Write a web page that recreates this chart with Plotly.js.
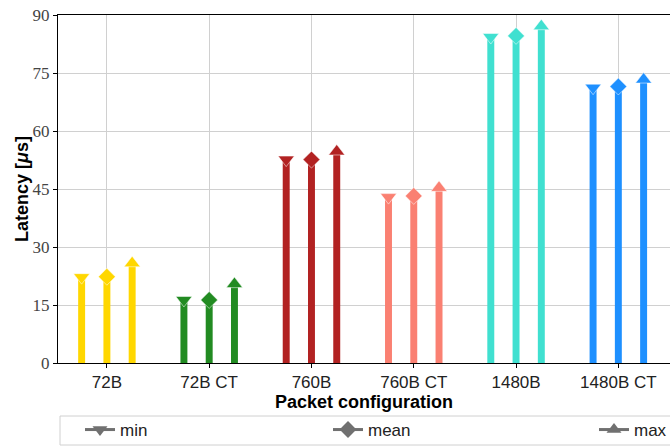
<!DOCTYPE html>
<html>
<head>
<meta charset="utf-8">
<script src="https://cdn.plot.ly/plotly-3.0.1.min.js"></script>
<style>html,body{margin:0;padding:0;background:#fff;}#chart{width:670px;height:447px;}</style>
</head>
<body>
<div id="chart"></div>
<script>
// ---- data ----
const categories = ["72B", "72B CT", "760B", "760B CT", "1480B", "1480B CT"];
const minVals  = [22.2, 16.3, 52.6, 42.9, 84.3, 71.2];
const meanVals = [22.3, 16.3, 52.6, 43.2, 84.6, 71.5];
const maxVals  = [25.8, 20.4, 54.7, 45.3, 87.1, 73.3];
const seriesNames = ["min", "mean", "max"];
const catColors = ["#FFD700", "#228B22", "#B22222", "#FA8072", "#40E0D0", "#1E90FF"];

// ---- layout constants ----
const offsets = [-0.247, 0, 0.247];
const symbols = ["triangle-down", "diamond", "triangle-up"];
const symSizes = [14, 13, 14];
const seriesVals = [minVals, meanVals, maxVals];
const legendIds = ["legend", "legend2", "legend3"];
const legendX = [80, 328, 594];

const idx = categories.map((_, i) => i);
const traces = [];
seriesVals.forEach((vals, s) => {
  const xs = idx.map(i => i + offsets[s]);
  traces.push({
    type: "bar", x: xs, y: vals, width: 0.068,
    marker: {color: catColors, line: {width: 0}},
    showlegend: false, hoverinfo: "skip"
  });
});
seriesVals.forEach((vals, s) => {
  const xs = idx.map(i => i + offsets[s]);
  traces.push({
    type: "scatter", mode: "markers", x: xs, y: vals,
    marker: {symbol: symbols[s], size: symSizes[s], color: catColors,
             line: {color: "rgba(255,255,255,0.5)", width: 1}},
    showlegend: false, cliponaxis: false
  });
});
seriesVals.forEach((vals, s) => {
  traces.push({
    type: "scatter", mode: "lines+markers", x: [null], y: [null],
    name: seriesNames[s], legend: legendIds[s],
    line: {color: "#707070", width: 3},
    marker: {symbol: symbols[s], size: 13, color: "#707070"},
    showlegend: true
  });
});

function legendCfg(px) {
  return {
    xref: "container", yref: "container",
    x: px / 670, xanchor: "left",
    y: 1 - 430 / 447, yanchor: "middle",
    orientation: "h", bgcolor: "rgba(0,0,0,0)", borderwidth: 0,
    font: {family: "Liberation Sans, Arial, sans-serif", size: 17, color: "#222"}
  };
}

const layout = {
  width: 670, height: 447,
  margin: {l: 58, r: 0, t: 15, b: 84},
  paper_bgcolor: "#fff", plot_bgcolor: "#fff",
  barmode: "overlay",
  showlegend: true,
  xaxis: {
    range: [-0.478, 5.505],
    tickmode: "array", tickvals: idx, ticktext: categories,
    showgrid: true, gridcolor: "#d0d0d0", gridwidth: 1,
    showline: true, linecolor: "#000", linewidth: 1, mirror: true,
    ticks: "outside", ticklen: 4, tickcolor: "#000",
    zeroline: false,
    tickfont: {family: "Liberation Sans, Arial, sans-serif", size: 17, color: "#222"},
    title: {text: "<b>Packet configuration</b>", standoff: 5,
            font: {family: "Liberation Sans, Arial, sans-serif", size: 18, color: "#000"}}
  },
  yaxis: {
    range: [0, 90],
    tickmode: "array", tickvals: [0, 15, 30, 45, 60, 75, 90],
    showgrid: true, gridcolor: "#d0d0d0", gridwidth: 1,
    showline: true, linecolor: "#000", linewidth: 1,
    ticks: "outside", ticklen: 4, tickcolor: "#000",
    zeroline: false,
    tickfont: {family: "Liberation Serif, serif", size: 17, color: "#444"}
  },
  annotations: [{
    xref: "paper", yref: "paper", x: -(58 - 22) / 612, y: 0.5,
    xanchor: "center", yanchor: "middle", textangle: -90, showarrow: false,
    text: "<b>Latency [<i>μ</i>s]</b>",
    font: {family: "Liberation Sans, Arial, sans-serif", size: 18, color: "#000"}
  }],
  legend: legendCfg(legendX[0]),
  legend2: legendCfg(legendX[1]),
  legend3: legendCfg(legendX[2]),
  shapes: [{
    type: "rect", xref: "paper", yref: "paper",
    x0: 2 / 612, x1: 1.02, y0: -(445 - 363) / 348, y1: -(416 - 363) / 348,
    line: {color: "#d0d0d0", width: 1}, fillcolor: "rgba(0,0,0,0)", layer: "below"
  }]
};

Plotly.newPlot("chart", traces, layout, {displayModeBar: false, staticPlot: true});
</script>
</body>
</html>
